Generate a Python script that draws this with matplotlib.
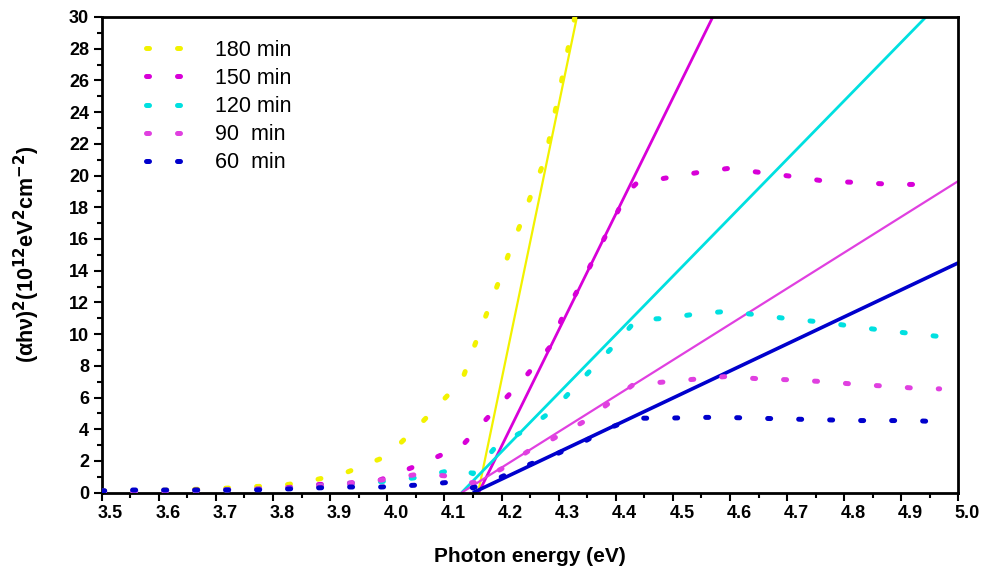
import matplotlib
matplotlib.use("Agg")
import matplotlib.pyplot as plt
import matplotlib.transforms as mtransforms
from matplotlib.ticker import MultipleLocator, FormatStrFormatter
import numpy as np

plt.rcParams['font.family'] = ['Liberation Sans', 'DejaVu Sans']

# ---- data ----
labels = ["180 min", "150 min", "120 min", "90  min", "60  min"]
colors = ["#f2f200", "#d800d8", "#00e0e0", "#e040e0", "#0000cc"]

x180 = [3.50, 3.55, 3.60, 3.65, 3.70, 3.765, 3.821, 3.873, 3.93, 3.999, 4.057, 4.11, 4.13,
        4.152, 4.173, 4.194, 4.213, 4.235, 4.255, 4.277, 4.29, 4.302, 4.313, 4.324, 4.335]
y180 = [0.10, 0.12, 0.15, 0.20, 0.25, 0.38, 0.49, 0.80, 1.30, 2.30, 4.30, 6.30, 7.00,
        9.20, 11.2, 13.2, 15.1, 17.1, 19.1, 21.1, 23.4, 25.4, 27.4, 29.3, 31.0]

x150 = [3.50, 3.55, 3.60, 3.65, 3.70, 3.76, 3.82, 3.87, 3.93, 3.987, 4.063, 4.132, 4.185,
        4.237, 4.285, 4.307, 4.337, 4.365, 4.393, 4.419, 4.436, 4.49, 4.545, 4.597, 4.652,
        4.706, 4.766, 4.833, 4.885, 4.938, 4.967]
y150 = [0.08, 0.10, 0.12, 0.15, 0.18, 0.22, 0.30, 0.50, 0.60, 0.80, 1.86, 3.00, 5.10,
        7.10, 9.20, 11.1, 13.0, 15.0, 16.95, 18.9, 19.5, 19.86, 20.2, 20.45, 20.2,
        19.96, 19.65, 19.55, 19.44, 19.44, 19.33]

x120 = [3.50, 3.55, 3.60, 3.65, 3.70, 3.76, 3.82, 3.87, 3.93, 3.99, 4.063, 4.127, 4.15,
        4.19, 4.244, 4.29, 4.35, 4.40, 4.436, 4.49, 4.545, 4.594, 4.652, 4.706, 4.766,
        4.833, 4.885, 4.938, 4.967]
y120 = [0.08, 0.10, 0.12, 0.14, 0.16, 0.20, 0.25, 0.40, 0.55, 0.70, 1.00, 1.56, 1.20,
        2.90, 4.00, 5.20, 7.50, 9.40, 10.9, 11.0, 11.3, 11.43, 11.2, 10.95, 10.74,
        10.4, 10.17, 9.96, 9.85]

x90 = [3.50, 3.55, 3.60, 3.65, 3.70, 3.76, 3.82, 3.87, 3.93, 3.99, 4.06, 4.12, 4.15,
       4.20, 4.25, 4.285, 4.35, 4.43, 4.49, 4.545, 4.594, 4.652, 4.706, 4.766, 4.833,
       4.885, 4.938, 4.967]
y90 = [0.08, 0.10, 0.12, 0.14, 0.16, 0.20, 0.25, 0.40, 0.55, 0.80, 1.20, 1.00, 0.60,
       1.50, 2.70, 3.30, 4.60, 6.80, 7.00, 7.18, 7.33, 7.18, 7.12, 7.00, 6.80,
       6.70, 6.55, 6.55]

x60 = [3.50, 3.544, 3.60, 3.65, 3.71, 3.76, 3.82, 3.873, 3.93, 3.99, 4.063, 4.12, 4.15,
       4.20, 4.25, 4.30, 4.338, 4.39, 4.434, 4.49, 4.544, 4.59, 4.645, 4.70, 4.76,
       4.83, 4.87, 4.92, 4.95]
y60 = [0.12, 0.17, 0.17, 0.17, 0.17, 0.17, 0.23, 0.30, 0.36, 0.36, 0.50, 0.70, 0.30,
       1.00, 1.80, 2.50, 3.10, 4.10, 4.70, 4.70, 4.75, 4.75, 4.70, 4.65, 4.60,
       4.55, 4.55, 4.55, 4.50]

series_x = [x180, x150, x120, x90, x60]
series_y = [y180, y150, y120, y90, y60]

# linear fits: x-intercept (eV) and slope (per eV)
fit_x0 = [4.159, 4.160, 4.130, 4.130, 4.150]
fit_slope = [173.4, 73.2, 36.9, 22.6, 17.06]
fit_lw = [1.6, 2.0, 2.0, 1.6, 2.6]

xticks = [3.5, 3.6, 3.7, 3.8, 3.9, 4.0, 4.1, 4.2, 4.3, 4.4, 4.5, 4.6, 4.7, 4.8, 4.9, 5.0]
yticks = list(range(0, 31, 2))

# ---- figure ----
fig = plt.figure(figsize=(9.86, 5.70), dpi=100)
ax = fig.add_axes([0.1031, 0.1356, 0.8690, 0.8346])

handles = []
for xs, ys, c, lab in zip(series_x, series_y, colors, labels):
    h, = ax.plot(xs, ys, color=c, lw=3.6, linestyle=(0, (0.6, 5.6)),
                 dash_capstyle='round', label=lab, zorder=3)
    handles.append(h)

for x0, s, c, lw in zip(fit_x0, fit_slope, colors, fit_lw):
    xe = np.array([x0, 5.0])
    ax.plot(xe, s * (xe - x0), color=c, lw=lw, zorder=2, solid_capstyle='butt')

ax.set_xlim(3.5, 5.0)
ax.set_ylim(0, 30)
ax.set_xticks(xticks)
ax.set_yticks(yticks)
ax.xaxis.set_minor_locator(MultipleLocator(0.05))
ax.yaxis.set_minor_locator(MultipleLocator(1))
ax.xaxis.set_major_formatter(FormatStrFormatter('%.1f'))

ax.tick_params(which='major', direction='out', length=6, width=1.5,
               labelsize=13, pad=3)
ax.tick_params(which='minor', direction='out', length=3.5, width=1.5)
for lab in ax.get_xticklabels() + ax.get_yticklabels():
    lab.set_fontweight('bold')
offset = mtransforms.ScaledTranslation(9 / 100, 0, fig.dpi_scale_trans)
for lab in ax.get_xticklabels():
    lab.set_transform(lab.get_transform() + offset)

for sp in ax.spines.values():
    sp.set_linewidth(2.0)

ax.set_xlabel("Photon energy (eV)", fontsize=15, fontweight='bold', labelpad=18)
ax.set_ylabel(r"(αhν)$^{\mathbf{2}}$(10$^{\mathbf{12}}$eV$^{\mathbf{2}}$cm$^{\mathbf{-2}}$)",
              fontsize=15.5, fontweight='bold')
ax.yaxis.set_label_coords(-0.07, 0.5)

leg = ax.legend(handles=handles, loc='upper left', bbox_to_anchor=(0.042, 0.970),
                frameon=False, fontsize=15.5, handlelength=2.75, handletextpad=0.45,
                labelspacing=0.33, borderaxespad=0)

fig.savefig("out.png", dpi=100)
